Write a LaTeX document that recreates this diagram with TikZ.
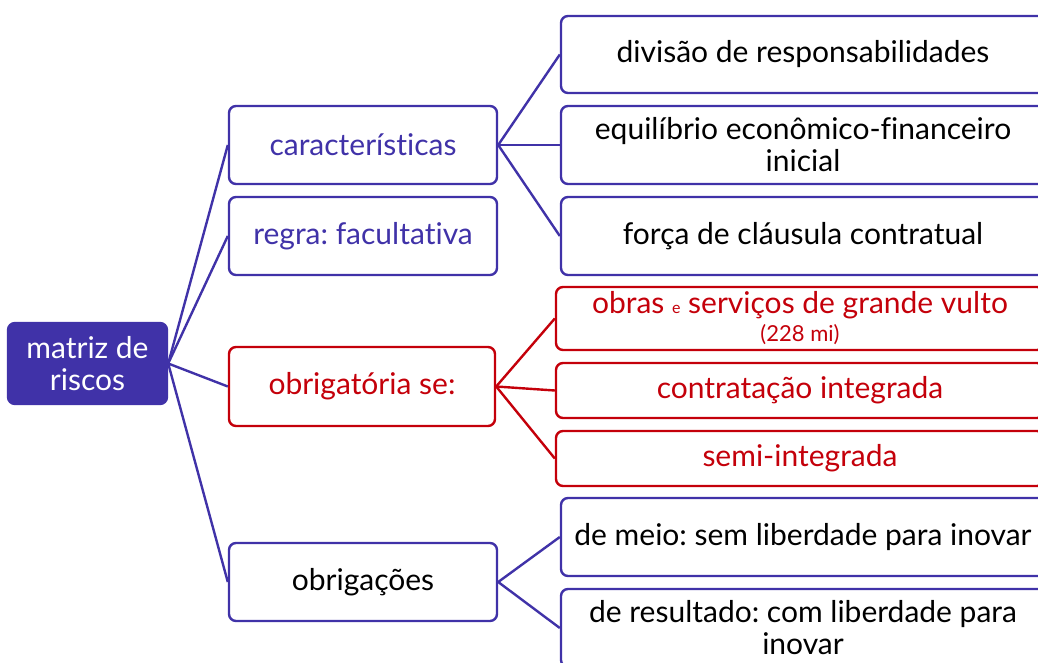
\documentclass[tikz,border=0pt]{standalone}
\usepackage{fontspec}
\setmainfont[Ligatures=NoCommon]{Lato}
\definecolor{roxo}{RGB}{64,50,168}
\definecolor{verm}{RGB}{196,0,10}
\begin{document}
\frenchspacing
\begin{tikzpicture}[x=1pt,y=-1pt,
    font=\fontsize{30}{32}\selectfont,
    caixa/.style={draw=roxo, line width=2.4pt, rounded corners=7pt, align=center, inner sep=2pt},
    caixared/.style={caixa, draw=verm, text=verm},
    link/.style={draw=roxo, line width=2.4pt},
    linkred/.style={draw=verm, line width=2.4pt}]
  \useasboundingbox (0,0) rectangle (1038,663);
  \path[clip] (0,0) rectangle (1038,663);
  % raiz
  \node[caixa, fill=roxo, text=white, minimum width=159pt, minimum height=81pt] (root) at (87.5,363.5) {matriz de\\riscos};
  % primeiro nivel
  \node[caixa, text=roxo, minimum width=268pt, minimum height=78pt] (car) at (363,145) {características};
  \node[caixa, text=roxo, minimum width=268pt, minimum height=78pt] (reg) at (363,236) {regra: facultativa};
  \node[caixared, minimum width=266pt, minimum height=79pt] (obr) at (362,386.5) {obrigatória se:};
  \node[caixa, minimum width=268pt, minimum height=78pt] (obg) at (363,582) {obrigações};
  % segundo nivel
  \node[caixa, minimum width=484pt, minimum height=77pt] (div) at (803,54.5) {divisão de responsabilidades};
  \node[caixa, minimum width=484pt, minimum height=78pt] (equ) at (803,145) {equilíbrio econômico-financeiro\\inicial};
  \node[caixa, minimum width=484pt, minimum height=78pt] (for) at (803,236) {força de cláusula contratual};
  \node[caixared, minimum width=488pt, minimum height=63pt] (gra) at (800,318.5) {obras {\fontsize{16}{18}\selectfont e} serviços de grande vulto\\[-4pt]{\fontsize{22}{24}\selectfont (228 mi)}};
  \node[caixared, minimum width=488pt, minimum height=55pt] (int) at (800,390.5) {contratação integrada};
  \node[caixared, minimum width=488pt, minimum height=55pt] (sem) at (800,458.5) {semi-integrada};
  \node[caixa, minimum width=484pt, minimum height=78pt] (mei) at (803,537) {de meio: sem liberdade para inovar};
  \node[caixa, minimum width=484pt, minimum height=78pt] (res) at (803,628) {de resultado: com liberdade para\\inovar};
  % ligacoes
  \foreach \n in {car,reg,obr,obg} \draw[link] (root.east) -- (\n.west);
  \foreach \n in {div,equ,for} \draw[link] (car.east) -- (\n.west);
  \foreach \n in {gra,int,sem} \draw[linkred] (obr.east) -- (\n.west);
  \foreach \n in {mei,res} \draw[link] (obg.east) -- (\n.west);
\end{tikzpicture}
\end{document}
